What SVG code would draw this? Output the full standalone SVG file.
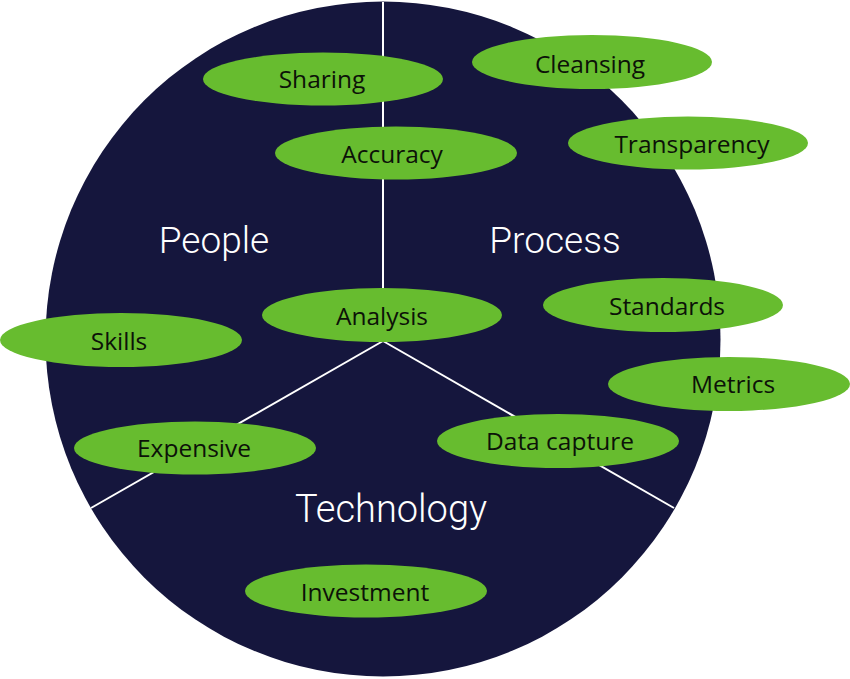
<svg xmlns="http://www.w3.org/2000/svg" width="850" height="679" viewBox="0 0 850 679">
<style>
.bg{fill:#15163d}
.div{stroke:#ffffff;stroke-width:2;fill:none}
.pill{fill:#67bc2f}
.lbl{font-family:"Open Sans","Liberation Sans",sans-serif;font-size:24.5px;fill:#0c1208;text-anchor:middle}
.head{font-family:Roboto,"Liberation Sans",sans-serif;font-weight:300;font-size:37px;fill:#ffffff;text-anchor:middle}
</style>
<rect width="850" height="679" fill="#ffffff"/>
<g id="disc">
<circle class="bg" cx="383" cy="339" r="337.5"/>
</g>
<g id="connectors">
<line class="div" x1="383" y1="2" x2="383" y2="341"/>
<line class="div" x1="383" y1="341" x2="91" y2="508"/>
<line class="div" x1="383" y1="341" x2="674" y2="508"/>
</g>
<g id="people"><text class="head" x="214" y="253">People</text></g>
<g id="process"><text class="head" x="555" y="253">Process</text></g>
<g id="technology"><text class="head" x="391" y="522" style="font-size:38px">Technology</text></g>
<g id="sharing"><ellipse class="pill" cx="323" cy="79" rx="120" ry="26.5"/><text class="lbl" x="322" y="88">Sharing</text></g>
<g id="cleansing"><ellipse class="pill" cx="592" cy="62" rx="120" ry="27"/><text class="lbl" x="590" y="73">Cleansing</text></g>
<g id="accuracy"><ellipse class="pill" cx="396" cy="153" rx="121" ry="26.5"/><text class="lbl" x="392" y="163">Accuracy</text></g>
<g id="transparency"><ellipse class="pill" cx="688" cy="143" rx="120" ry="26.5"/><text class="lbl" x="692" y="153">Transparency</text></g>
<g id="standards"><ellipse class="pill" cx="663" cy="305" rx="120" ry="27"/><text class="lbl" x="667" y="315">Standards</text></g>
<g id="analysis"><ellipse class="pill" cx="382" cy="315" rx="120" ry="27"/><text class="lbl" x="382" y="325">Analysis</text></g>
<g id="skills"><ellipse class="pill" cx="121" cy="340" rx="121" ry="27"/><text class="lbl" x="119" y="350">Skills</text></g>
<g id="metrics"><ellipse class="pill" cx="729" cy="384" rx="121" ry="27"/><text class="lbl" x="733" y="393">Metrics</text></g>
<g id="data-capture"><ellipse class="pill" cx="558" cy="441" rx="121" ry="27"/><text class="lbl" x="560" y="450">Data capture</text></g>
<g id="expensive"><ellipse class="pill" cx="195" cy="448" rx="121" ry="26.5"/><text class="lbl" x="194" y="457">Expensive</text></g>
<g id="investment"><ellipse class="pill" cx="366" cy="591" rx="121" ry="26.5"/><text class="lbl" x="365" y="601">Investment</text></g>
</svg>
